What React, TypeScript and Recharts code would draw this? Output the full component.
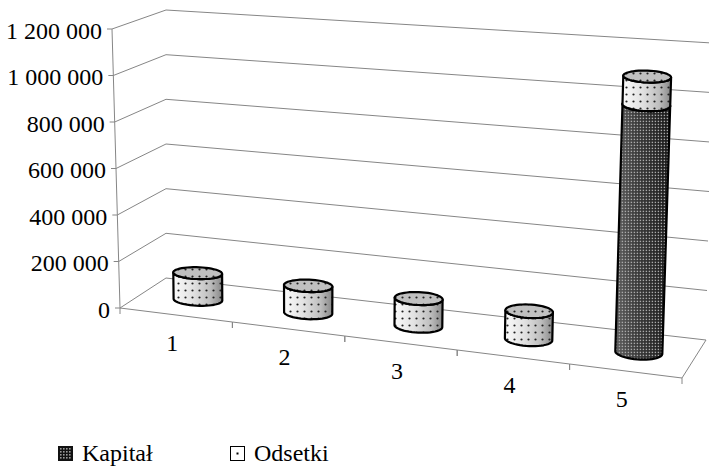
import { Bar, BarChart, CartesianGrid, XAxis, YAxis } from "recharts";

const categories = ["1", "2", "3", "4", "5"];
const kapital = [0, 0, 0, 0, 1000000];
const odsetki = [115000, 115000, 115000, 115000, 115000];
const yTicks = [0, 200000, 400000, 600000, 800000, 1000000, 1200000];
const seriesNames = { kapital: "Kapitał", odsetki: "Odsetki" };

const data = categories.map((label, i) => ({
  label,
  kapital: kapital[i],
  odsetki: odsetki[i],
}));

const WIDTH = 709;
const HEIGHT = 470;
const MARGIN = { top: 20, right: 20, bottom: 0, left: 0 };
const Y_AXIS_W = 20;
const X_AXIS_H = 60;
const PLOT_LEFT = MARGIN.left + Y_AXIS_W;
const PLOT_TOP = MARGIN.top;
const PLOT_W = WIDTH - PLOT_LEFT - MARGIN.right;
const PLOT_H = HEIGHT - PLOT_TOP - MARGIN.bottom - X_AXIS_H;
const PLOT_BOTTOM = PLOT_TOP + PLOT_H;

const FONT = "'Liberation Serif', 'Times New Roman', serif";
const FONT_SIZE = 24;
const GRID = "#868686";
const OUTLINE = 2.2;

// flat plot coordinates -> position across categories (u) and up the value axis (v)
const toU = (x: number) => (x - PLOT_LEFT) / PLOT_W;
const toV = (y: number) => (PLOT_BOTTOM - y) / PLOT_H;

// screen corners of the perspective box, keyed by u, d (depth), v
const BOX: Record<string, [number, number]> = {
  "000": [120, 308],
  "100": [682, 378],
  "010": [166, 278],
  "110": [706, 340],
  "001": [112, 29],
  "101": [697, 76],
  "011": [166, 10],
  "111": [712, 43],
};

function project(u: number, d: number, v: number): [number, number] {
  let x = 0;
  let y = 0;
  for (const a of [0, 1])
    for (const b of [0, 1])
      for (const c of [0, 1]) {
        const w = (a ? u : 1 - u) * (b ? d : 1 - d) * (c ? v : 1 - v);
        const p = BOX[`${a}${b}${c}`];
        x += w * p[0];
        y += w * p[1];
      }
  return [x, y];
}

const pts = (list: [number, number][]) =>
  list.map(([x, y]) => `${x.toFixed(1)},${y.toFixed(1)}`).join(" ");

const fmt = (n: number) => String(n).replace(/\B(?=(\d{3})+(?!\d))/g, " ");

// cylinder cross-section: circle on the floor plane, half a band deep
const DEPTH_R = 0.18;
const SEG = 48;

function ring(uc: number, ru: number, v: number) {
  return Array.from({ length: SEG }, (_, k) => {
    const t = (2 * Math.PI * k) / SEG;
    return project(uc + ru * Math.cos(t), 0.5 + DEPTH_R * Math.sin(t), v);
  });
}

// visible (front) half of a ring, from its leftmost to its rightmost point
function frontArc(r: [number, number][]) {
  let iL = 0;
  let iR = 0;
  r.forEach((p, i) => {
    if (p[0] < r[iL][0]) iL = i;
    if (p[0] > r[iR][0]) iR = i;
  });
  const out = [r[iL]];
  let i = iL;
  while (i !== iR) {
    i = (i + 1) % SEG;
    out.push(r[i]);
  }
  return out;
}

const LOOK = {
  kapital: { side: "url(#kapSide)", top: "#4a4a4a", texture: "url(#kapDots)" },
  odsetki: { side: "url(#odsSide)", top: "#c0c0c0", texture: "url(#odsDots)" },
};

function Cylinder(props: any) {
  const { x, y, width, height, kind } = props;
  if (!height || height <= 0.5) return <g />;
  const look = LOOK[kind as keyof typeof LOOK];
  const u0 = toU(x);
  const u1 = toU(x + width);
  const uc = (u0 + u1) / 2;
  const ru = (u1 - u0) / 2;
  const vTop = toV(y);
  const vBot = toV(y + height);
  const top = ring(uc, ru, vTop);
  const bottom = ring(uc, ru, vBot);
  const side = [...frontArc(top), ...frontArc(bottom).reverse()];
  return (
    <g>
      <polygon points={pts(side)} fill={look.side} />
      <polygon points={pts(side)} fill={look.texture} />
      <polygon points={pts(side)} fill="none" stroke="#000" strokeWidth={OUTLINE} strokeLinejoin="round" />
      <polygon points={pts(top)} fill={look.top} />
      <polygon points={pts(top)} fill={look.texture} />
      <polygon points={pts(top)} fill="none" stroke="#000" strokeWidth={OUTLINE} strokeLinejoin="round" />
    </g>
  );
}

// left wall + back wall line for one value tick
function WallLine(props: any) {
  const v = toV(props.y1);
  return (
    <polyline
      key={`wall-${props.index}`}
      points={pts([project(0, 0, v), project(0, 1, v), project(1, 1, v)])}
      fill="none"
      stroke={GRID}
      strokeWidth={1}
    />
  );
}

function ValueTick(props: any) {
  const { y, payload } = props;
  const v = toV(y);
  const [ax, ay] = project(0, 0, v);
  const [bx, by] = project(0, 0, 0);
  const [tx, ty] = project(0, 0, 1);
  return (
    <g>
      {payload.value === yTicks[0] && (
        <line x1={bx} y1={by} x2={tx} y2={ty} stroke={GRID} strokeWidth={1} />
      )}
      <line x1={ax - 5} y1={ay} x2={ax} y2={ay} stroke={GRID} strokeWidth={1} />
      <text
        x={ax - 10}
        y={ay + 2 + FONT_SIZE * 0.33}
        textAnchor="end"
        fontFamily={FONT}
        fontSize={FONT_SIZE}
        fill="#000"
      >
        {fmt(payload.value)}
      </text>
    </g>
  );
}

function CategoryTick(props: any) {
  const { x, payload } = props;
  const uc = toU(x);
  const half = 0.5 / categories.length;
  const a = project(uc - half, 0, 0);
  const b = project(uc + half, 0, 0);
  const [lx, ly] = project(uc, 0, 0);
  const isLast = payload.value === categories[categories.length - 1];
  const c = project(1, 0, 0);
  const e = project(1, 1, 0);
  return (
    <g>
      <line x1={a[0]} y1={a[1]} x2={b[0]} y2={b[1]} stroke={GRID} strokeWidth={1} />
      <line x1={a[0]} y1={a[1]} x2={a[0]} y2={a[1] + 6} stroke={GRID} strokeWidth={1} />
      <line x1={b[0]} y1={b[1]} x2={b[0]} y2={b[1] + 6} stroke={GRID} strokeWidth={1} />
      {isLast && <line x1={c[0]} y1={c[1]} x2={e[0]} y2={e[1]} stroke={GRID} strokeWidth={1} />}
      <text
        x={lx - 4}
        y={ly + 28 + FONT_SIZE * 0.33}
        textAnchor="middle"
        fontFamily={FONT}
        fontSize={FONT_SIZE}
        fill="#000"
      >
        {payload.value}
      </text>
    </g>
  );
}

function LegendMarker({ kind }: { kind: "kapital" | "odsetki" }) {
  return (
    <svg width={15} height={15} style={{ display: "block" }}>
      {kind === "kapital" ? (
        <>
          <rect x={0} y={0} width={15} height={15} fill="#111" />
          {[3, 6, 9, 12].map((cx) =>
            [3, 6, 9, 12].map((cy) => (
              <rect key={`${cx}-${cy}`} x={cx - 1} y={cy - 1} width={1.6} height={1.6} fill="#9a9a9a" />
            ))
          )}
        </>
      ) : (
        <>
          <rect x={0.5} y={0.5} width={14} height={14} fill="#fff" stroke="#000" strokeWidth={1} />
          <rect x={6.5} y={6.5} width={2} height={2} fill="#000" />
        </>
      )}
    </svg>
  );
}

export default function App() {
  return (
    <div style={{ position: "absolute", left: 0, top: 0, width: WIDTH, height: HEIGHT, background: "#fff" }}>
      <BarChart width={WIDTH} height={HEIGHT} data={data} margin={MARGIN} barCategoryGap="29%">
        <defs>
          <linearGradient id="odsSide" x1="0" y1="0" x2="1" y2="0">
            <stop offset="0" stopColor="#fbfbfb" />
            <stop offset="0.4" stopColor="#e2e2e2" />
            <stop offset="0.75" stopColor="#bebebe" />
            <stop offset="1" stopColor="#888888" />
          </linearGradient>
          <linearGradient id="kapSide" x1="0" y1="0" x2="1" y2="0">
            <stop offset="0" stopColor="#5e5e5e" />
            <stop offset="0.4" stopColor="#383838" />
            <stop offset="1" stopColor="#161616" />
          </linearGradient>
          <pattern id="odsDots" width={7} height={7} patternUnits="userSpaceOnUse">
            <circle cx={3.5} cy={3.5} r={1.1} fill="#222" />
          </pattern>
          <pattern id="kapDots" width={3} height={3} patternUnits="userSpaceOnUse">
            <rect x={0.7} y={0.7} width={1.4} height={1.4} fill="#aaaaaa" />
          </pattern>
        </defs>
        <CartesianGrid vertical={false} horizontal={WallLine} />
        <XAxis
          dataKey="label"
          height={X_AXIS_H}
          axisLine={false}
          tickLine={false}
          interval={0}
          tick={<CategoryTick />}
        />
        <YAxis
          width={Y_AXIS_W}
          domain={[0, yTicks[yTicks.length - 1]]}
          ticks={yTicks}
          interval={0}
          axisLine={false}
          tickLine={false}
          tick={<ValueTick />}
        />
        <Bar
          dataKey="kapital"
          name={seriesNames.kapital}
          stackId="a"
          isAnimationActive={false}
          shape={(p: any) => <Cylinder {...p} kind="kapital" />}
        />
        <Bar
          dataKey="odsetki"
          name={seriesNames.odsetki}
          stackId="a"
          isAnimationActive={false}
          shape={(p: any) => <Cylinder {...p} kind="odsetki" />}
        />
      </BarChart>
      <div
        style={{
          position: "absolute",
          left: 58,
          top: 440,
          display: "flex",
          alignItems: "center",
          fontFamily: FONT,
          fontSize: FONT_SIZE,
          lineHeight: "26px",
        }}
      >
        {(["kapital", "odsetki"] as const).map((kind) => (
          <div key={kind} style={{ display: "flex", alignItems: "center", width: 172 }}>
            <LegendMarker kind={kind} />
            <span style={{ marginLeft: 9 }}>{seriesNames[kind]}</span>
          </div>
        ))}
      </div>
    </div>
  );
}
